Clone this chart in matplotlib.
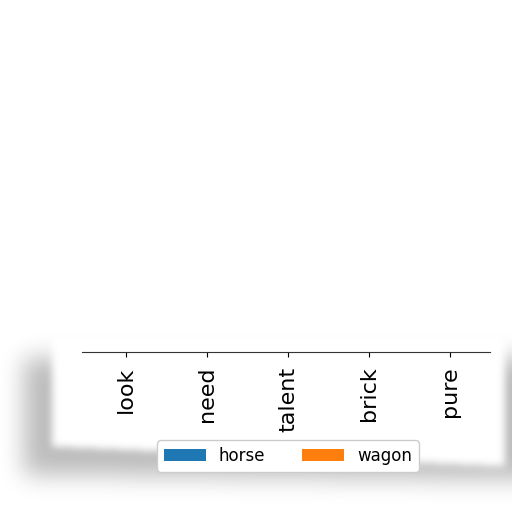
import numpy as np
import matplotlib
matplotlib.use("Agg")
import matplotlib.pyplot as plt

categories = ["look", "need", "talent", "brick", "pure"]
horse = [0, 0, 0, 0, 0]
wagon = [0, 0, 0, 0, 0]


def blur(img, sigma):
    r = int(3 * sigma)
    k = np.exp(-0.5 * (np.arange(-r, r + 1) / sigma) ** 2)
    k /= k.sum()
    img = np.apply_along_axis(lambda v: np.convolve(np.pad(v, r, mode="edge"), k, mode="valid"), 0, img)
    img = np.apply_along_axis(lambda v: np.convolve(np.pad(v, r, mode="edge"), k, mode="valid"), 1, img)
    return img


# torn-paper shadow behind the visible strip
H = W = 512
yy, xx = np.mgrid[0:H, 0:W]
shadow = ((xx >= 24) & (yy >= 358) & (yy <= 474 + (xx - 24) * 0.01)).astype(float)
shadow = blur(shadow, 12) * 0.27
bottom = 446 + (xx - 50) * (20 / 455)
paper = ((xx >= 52) & (xx <= 504) & (yy >= 336) & (yy <= bottom)).astype(float)
paper = blur(paper, 4)
bg = 1 - shadow * (1 - paper)

fig = plt.figure(figsize=(5.12, 5.12), dpi=100)
bg_ax = fig.add_axes([0, 0, 1, 1], zorder=0)
bg_ax.imshow(bg, cmap="gray", vmin=0, vmax=1, aspect="auto", interpolation="bilinear")
bg_ax.axis("off")

ax = fig.add_axes([82 / 512, 1 - 352 / 512, 408 / 512, 0.6], zorder=1)
ax.patch.set_alpha(0)
x = np.arange(len(categories))
ax.bar(x, horse, width=0.6, color="#1f77b4", label="horse")
ax.bar(x, wagon, width=0.6, bottom=horse, color="#ff7f0e", label="wagon")
ax.set_xlim(-0.54, 4.49)
ax.set_ylim(0, 1)
ax.set_xticks(x)
ax.set_xticklabels(categories, rotation=90, fontsize=16)
ax.tick_params(axis="x", pad=7)
ax.set_yticks([])
for side in ["top", "left", "right"]:
    ax.spines[side].set_visible(False)
ax.spines["bottom"].set_color("#333333")

fig.legend(loc="upper center", bbox_to_anchor=(288 / 512, 1 - 432 / 512), ncol=2,
           fontsize=12, handlelength=2.5, columnspacing=2.2, framealpha=1)

fig.savefig("out.png", dpi=100)
